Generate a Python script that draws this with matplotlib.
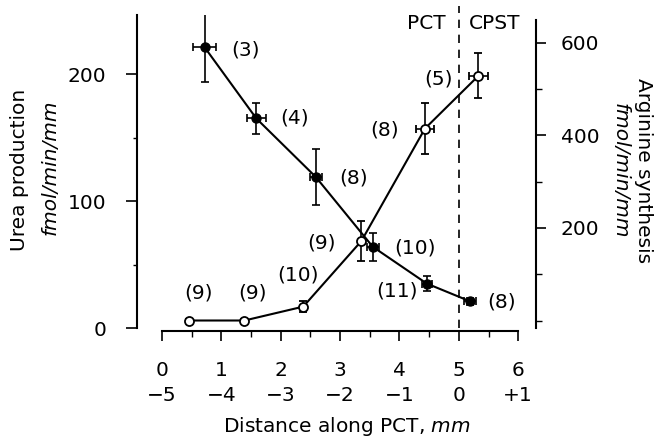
import matplotlib
matplotlib.use('Agg')
import matplotlib.pyplot as plt
from matplotlib.ticker import MultipleLocator

plt.rcParams['font.family'] = ['DejaVu Sans']
FS = 14.5

# urea production (left axis), filled circles
urea_x = [0.72, 1.59, 2.59, 3.55, 4.46, 5.19]
urea_y = [221, 165, 119, 64, 35, 21]
urea_yerr = [27, 12, 22, 11, 6, 3]
urea_xerr = [0.19, 0.16, 0.10, 0.10, 0.08, 0.10]
urea_n = ['(3)', '(4)', '(8)', '(10)', '(11)', '(8)']

# arginine synthesis (right axis), open circles
arg_x = [0.46, 1.39, 2.38, 3.36, 4.43, 5.33]
arg_y = [0, 0, 30, 172, 415, 529]
arg_yerr = [3, 3, 12, 43, 56, 49]
arg_xerr = [0.0, 0.0, 0.0, 0.0, 0.15, 0.16]
arg_n = ['(9)', '(9)', '(10)', '(9)', '(8)', '(5)']

xticks = [0, 1, 2, 3, 4, 5, 6]
xticks_rel = ['\u22125', '\u22124', '\u22123', '\u22122', '\u22121', '0', '+1']

fig = plt.figure(figsize=[6.62, 4.41], dpi=100)
ax = fig.add_axes([137/662, 1-328/441, (536-137)/662, (328-15)/441])
ax2 = ax.twinx()

ax.set_xlim(-0.42, 6.3)
ax.set_ylim(0, 246.5)
ax2.set_ylim(-16.2, 660.5)

lw = 1.5
ax.errorbar(urea_x, urea_y, yerr=urea_yerr, xerr=urea_xerr, color='black',
            marker='o', ms=6.5, mfc='black', lw=lw, elinewidth=1.2, capsize=3,
            capthick=1.2, zorder=3)
ax2.errorbar(arg_x, arg_y, yerr=arg_yerr, xerr=arg_xerr, color='black',
             marker='o', ms=6.5, mfc='white', mew=1.3, lw=lw, elinewidth=1.2,
             capsize=3, capthick=1.2, zorder=3)

# n labels, placed in left axis data coords
urea_lab_pos = [(1.40, 219), (2.24, 165), (3.22, 118), (4.26, 63), (3.96, 29), (5.72, 20.5)]
arg_lab_pos = [(0.62, 27.5), (1.53, 27.5), (2.29, 42), (2.69, 67), (3.75, 156), (4.65, 196)]
for (tx, ty), s in zip(urea_lab_pos, urea_n):
    ax.text(tx, ty, s, fontsize=FS, ha='center', va='center')
for (tx, ty), s in zip(arg_lab_pos, arg_n):
    ax.text(tx, ty, s, fontsize=FS, ha='center', va='center')

ax.axvline(5, color='black', lw=1.2, ls=(0, (5, 4)), ymin=0, ymax=1.03, clip_on=False)
ax.text(4.46, 240, 'PCT', fontsize=FS, ha='center', va='center')
ax.text(5.6, 240, 'CPST', fontsize=FS, ha='center', va='center')

# spines
for a in (ax, ax2):
    a.spines['top'].set_visible(False)
ax2.spines['bottom'].set_visible(False)
ax2.spines['left'].set_visible(False)
ax.spines['right'].set_visible(False)
ax.spines['bottom'].set_position(('outward', 2))
ax.spines['bottom'].set_bounds(0, 6)
ax.spines['left'].set_bounds(0, 246.5)
ax2.spines['right'].set_bounds(-16.2, 650)
for sp in ('left', 'bottom'):
    ax.spines[sp].set_linewidth(1.5)
ax2.spines['right'].set_linewidth(1.5)

ax.set_xticks(xticks)
ax.set_xticklabels(['%d\n%s' % (a, b) for a, b in zip(xticks, xticks_rel)])
for lab in ax.get_xticklabels():
    lab.set_linespacing(1.35)
ax.xaxis.set_minor_locator(MultipleLocator(0.5))
ax.tick_params(axis='x', which='major', length=7, width=1.2, pad=15, labelsize=FS)
ax.tick_params(axis='x', which='minor', length=4, width=1.0)

ax.set_yticks([0, 100, 200])
ax.yaxis.set_minor_locator(MultipleLocator(50))
ax.tick_params(axis='y', which='major', length=8, width=1.2, pad=14, labelsize=FS)
ax.tick_params(axis='y', which='minor', length=3, width=1.0)

ax2.set_yticks([200, 400, 600])
ax2.yaxis.set_minor_locator(MultipleLocator(100))
ax2.tick_params(axis='y', which='major', length=7, width=1.2, pad=11, labelsize=FS)
ax2.tick_params(axis='y', which='minor', length=4, width=1.0)

# axis titles
fig.text(20/662, 1-170/441, 'Urea production', rotation=90, fontsize=FS,
         ha='center', va='center')
fig.text(50/662, 1-167/441, 'fmol/min/mm', rotation=90, fontsize=FS,
         ha='center', va='center', style='italic')
fig.text(643/662, 1-171/441, 'Arginine synthesis', rotation=270, fontsize=FS,
         ha='center', va='center')
fig.text(620/662, 1-171/441, 'fmol/min/mm', rotation=270, fontsize=FS,
         ha='center', va='center', style='italic')
fig.text(347/662, 1-427/441, 'Distance along PCT, $\\it{mm}$', fontsize=FS,
         ha='center', va='center')

fig.savefig('out.png', dpi=100)
